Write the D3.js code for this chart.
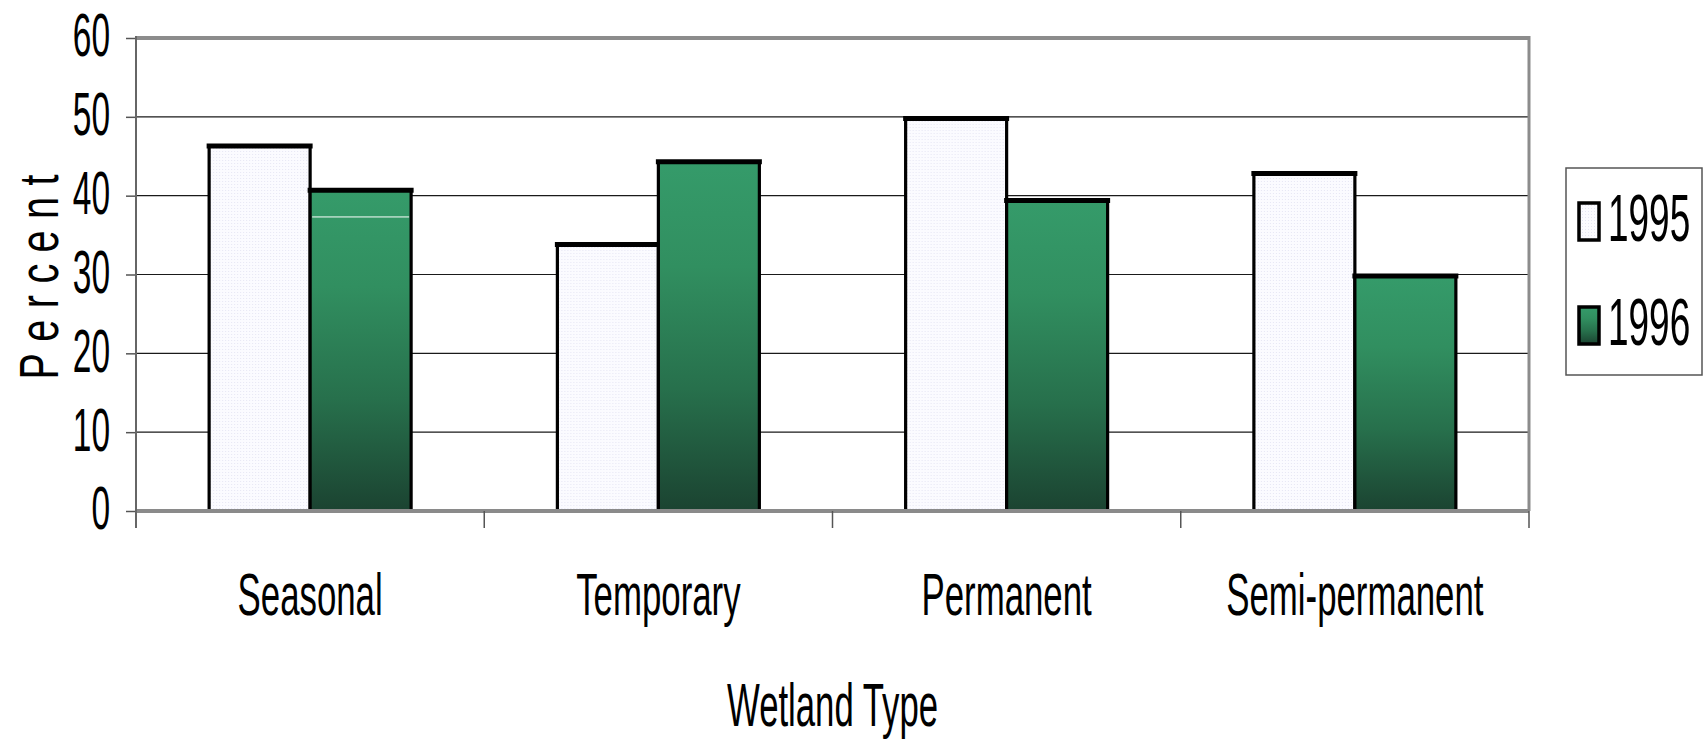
<!DOCTYPE html>
<html>
<head>
<meta charset="utf-8">
<script src="https://cdn.jsdelivr.net/npm/d3@7"></script>
<style>
  html, body { margin: 0; padding: 0; background: #fff; }
  svg { display: block; }
  text { font-family: "Liberation Sans", Arial, sans-serif; fill: #000; }
</style>
</head>
<body>
<svg id="chart" width="1706" height="741"></svg>
<script>
// Wetland types surveyed and the share (%) found in each year
const categories = ["Seasonal", "Temporary", "Permanent", "Semi-permanent"];
const years = ["1995", "1996"];
const values1995 = [46.3, 33.8, 49.8, 42.8];
const values1996 = [40.7, 44.3, 39.4, 29.8];
const yTicks = [0, 10, 20, 30, 40, 50, 60];
const xTitle = "Wetland Type";
const yTitle = "Percent";

const plotLeft = 136, plotRight = 1529, plotTop = 38, plotBottom = 511;

const svg = d3.select("#chart");
const defs = svg.append("defs");

// fine dotted fill for the 1995 bars
const pat = defs.append("pattern").attr("id", "dots95")
  .attr("width", 3).attr("height", 3).attr("patternUnits", "userSpaceOnUse");
pat.append("rect").attr("width", 3).attr("height", 3).attr("fill", "#fbfbff");
pat.append("rect").attr("x", 1).attr("y", 1).attr("width", 1).attr("height", 1).attr("fill", "#e6e6f4");

// vertical green shading for the 1996 bars
const grad = defs.append("linearGradient").attr("id", "green96")
  .attr("x1", 0).attr("y1", 0).attr("x2", 0).attr("y2", 1);
[[0, "#359b6a"], [0.3, "#318f60"], [0.65, "#27704c"], [1, "#1b4331"]].forEach(([o, c]) =>
  grad.append("stop").attr("offset", o).attr("stop-color", c));

const fills = { "1995": "url(#dots95)", "1996": "url(#green96)" };

const x = d3.scaleBand().domain(categories).range([plotLeft, plotRight])
  .paddingInner(0.42).paddingOuter(0.21);
const xs = d3.scaleBand().domain(years).range([0, x.bandwidth()]);
const y = d3.scaleLinear().domain([0, 60]).range([plotBottom, plotTop]);

// horizontal gridlines
svg.append("g").selectAll("line").data(yTicks.filter(v => v > 0 && v < 60)).join("line")
  .attr("x1", plotLeft).attr("x2", plotRight)
  .attr("y1", d => y(d)).attr("y2", d => y(d))
  .attr("stroke", "#1a1a1a").attr("stroke-width", 1.2);

// plot frame: top and right edges
svg.append("line").attr("x1", plotLeft).attr("x2", plotRight).attr("y1", y(60)).attr("y2", y(60))
  .attr("stroke", "#8c8c8c").attr("stroke-width", 4);
svg.append("line").attr("x1", plotRight).attr("x2", plotRight).attr("y1", y(60) - 2).attr("y2", plotBottom)
  .attr("stroke", "#8c8c8c").attr("stroke-width", 3);

// bars
const rows = categories.map((c, i) => ({ cat: c, vals: { "1995": values1995[i], "1996": values1996[i] } }));
const groups = svg.append("g").selectAll("g").data(rows).join("g")
  .attr("transform", d => `translate(${x(d.cat)},0)`);
groups.each(function (d) {
  const g = d3.select(this);
  years.forEach(yr => {
    const v = d.vals[yr];
    g.append("rect")
      .attr("x", xs(yr)).attr("y", y(v))
      .attr("width", xs.bandwidth()).attr("height", y(0) - y(v))
      .attr("fill", fills[yr]).attr("stroke", "#000").attr("stroke-width", 3.2);
    g.append("line")
      .attr("x1", xs(yr)).attr("x2", xs(yr) + xs.bandwidth())
      .attr("y1", y(v)).attr("y2", y(v))
      .attr("stroke", "#000").attr("stroke-width", 5).attr("stroke-linecap", "square");
  });
});

// thin white rule across the first 1996 bar
svg.append("line")
  .attr("x1", x(categories[0]) + xs("1996") + 2).attr("x2", x(categories[0]) + xs("1996") + xs.bandwidth() - 2)
  .attr("y1", y(37.3)).attr("y2", y(37.3))
  .attr("stroke", "#fff").attr("stroke-width", 1);

// x axis line and category divider ticks
svg.append("line").attr("x1", plotLeft).attr("x2", plotRight).attr("y1", plotBottom).attr("y2", plotBottom)
  .attr("stroke", "#8a8a8a").attr("stroke-width", 4);
const bounds = d3.range(categories.length + 1).map(i => plotLeft + i * x.step());
svg.append("g").selectAll("line").data(bounds).join("line")
  .attr("x1", d => d).attr("x2", d => d).attr("y1", plotBottom).attr("y2", plotBottom + 17)
  .attr("stroke", "#555").attr("stroke-width", 1.5);

// y axis
const yAxis = svg.append("g").attr("transform", `translate(${plotLeft},0)`)
  .call(d3.axisLeft(y).tickValues(yTicks).tickSize(10).tickSizeOuter(0));
yAxis.select(".domain").remove();
yAxis.selectAll(".tick line").attr("stroke", "#555").attr("stroke-width", 1.5);
const ySx = 0.54;
yAxis.selectAll(".tick text")
  .attr("font-size", 62).attr("font-family", "Liberation Sans, Arial, sans-serif")
  .attr("fill", "#000")
  .attr("x", -26 / ySx).attr("dy", "0.29em")
  .attr("transform", `scale(${ySx},1)`);
svg.append("line").attr("x1", plotLeft).attr("x2", plotLeft).attr("y1", y(60) - 2).attr("y2", plotBottom + 17)
  .attr("stroke", "#666").attr("stroke-width", 2);

// category labels
const xAxis = svg.append("g").attr("transform", `translate(0,${plotBottom})`)
  .call(d3.axisBottom(x).tickSize(0).tickPadding(0));
xAxis.select(".domain").remove();
const xSx = 0.58;
xAxis.selectAll(".tick text")
  .attr("font-size", 60).attr("font-family", "Liberation Sans, Arial, sans-serif")
  .attr("fill", "#000").attr("y", 104).attr("dy", 0)
  .attr("transform", `scale(${xSx},1)`);

// axis titles
svg.append("g").attr("transform", `translate(${(plotLeft + plotRight) / 2},726) scale(0.56,1)`)
  .append("text").attr("text-anchor", "middle").attr("font-size", 62).text(xTitle);

const ySq = 0.72;
svg.append("g").attr("transform", `translate(58,277) rotate(-90) scale(${ySq},1)`)
  .append("text").attr("text-anchor", "middle").attr("font-size", 55)
  .attr("textLength", 205 / ySq).attr("lengthAdjust", "spacing").text(yTitle);

// legend
const lg = svg.append("g");
lg.append("rect").attr("x", 1566).attr("y", 168).attr("width", 136).attr("height", 207)
  .attr("fill", "#fff").attr("stroke", "#555").attr("stroke-width", 1.5);
const legSx = 0.56;
years.forEach((yr, i) => {
  const cy = 203 + i * 104;
  lg.append("rect").attr("x", 1579).attr("y", cy).attr("width", 20).attr("height", 37)
    .attr("fill", fills[yr]).attr("stroke", "#000").attr("stroke-width", 3.5);
  lg.append("g").attr("transform", `translate(1608,${cy + 38}) scale(${legSx},1)`)
    .append("text").attr("font-size", 66).text(yr);
});
</script>
</body>
</html>
